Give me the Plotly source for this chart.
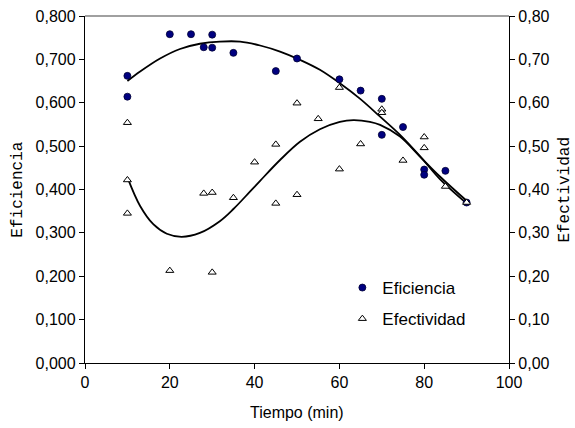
import plotly.graph_objects as go

# Eficiencia data (left axis)
ef_t = [10, 10, 20, 25, 28, 30, 30, 35, 45, 50, 60, 65, 70, 70, 75, 80, 80, 85, 90]
ef_v = [0.662, 0.614, 0.758, 0.758, 0.728, 0.757, 0.727, 0.715, 0.673, 0.702,
        0.654, 0.628, 0.609, 0.526, 0.544, 0.446, 0.434, 0.443, 0.370]

# Efectividad data (right axis)
et_t = [10, 10, 10, 20, 28, 30, 30, 35, 40, 45, 45, 50, 50, 55, 60, 60, 65, 70, 70, 75, 80, 80, 85, 90]
et_v = [0.554, 0.422, 0.345, 0.213, 0.391, 0.393, 0.209, 0.381, 0.463, 0.504, 0.368,
        0.599, 0.388, 0.563, 0.635, 0.447, 0.505, 0.585, 0.577, 0.467, 0.521, 0.496,
        0.407, 0.370]

# Trend curves
tr_ef_t = [10, 13, 17.7, 22.4, 27.1, 31.8, 36.6, 41.3, 46, 50.7, 55.4, 60.1, 64.9, 69.6, 74.3, 79, 83.7, 90]
tr_ef_v = [0.650, 0.672, 0.702, 0.724, 0.736, 0.741, 0.741, 0.732, 0.718, 0.699, 0.676,
           0.645, 0.609, 0.568, 0.526, 0.477, 0.424, 0.368]

tr_et_t = [10, 13, 16.1, 19.3, 22.8, 27.1, 31.8, 35, 38.9, 41.3, 46, 50.7, 55.4, 60.1, 63.3, 67.2, 69.6, 74.3, 79, 83.7, 90]
tr_et_v = [0.428, 0.362, 0.320, 0.298, 0.291, 0.300, 0.327, 0.355, 0.395, 0.420, 0.468,
           0.510, 0.539, 0.556, 0.560, 0.556, 0.549, 0.522, 0.476, 0.430, 0.374]

x_ticks = [0, 20, 40, 60, 80, 100]

FONT = "Liberation Sans, Arial, sans-serif"
MONO = "Liberation Mono, Courier New, monospace"

fig = go.Figure()
fig.add_trace(go.Scatter(x=tr_ef_t, y=tr_ef_v, mode="lines",
                         line=dict(color="black", width=1.8, shape="spline", smoothing=1),
                         showlegend=False, hoverinfo="skip"))
fig.add_trace(go.Scatter(x=tr_et_t, y=tr_et_v, mode="lines",
                         line=dict(color="black", width=1.8, shape="spline", smoothing=1),
                         showlegend=False, hoverinfo="skip", yaxis="y2"))
fig.add_trace(go.Scatter(x=et_t, y=et_v, mode="markers", name="Efectividad", yaxis="y2",
                         marker=dict(symbol="triangle-up", size=7, color="white",
                                     line=dict(color="black", width=1)),
                         legendgroup="b", legendrank=2))
fig.add_trace(go.Scatter(x=ef_t, y=ef_v, mode="markers", name="Eficiencia",
                         marker=dict(symbol="circle", size=7, color="#000080",
                                     line=dict(color="#000033", width=0.8)),
                         legendgroup="a", legendrank=1))

axis_common = dict(showgrid=False, zeroline=False, ticks="outside", ticklen=5,
                   tickcolor="black", linecolor="black", linewidth=1.3, showline=True,
                   automargin=False, ticklabeloverflow="allow",
                   tickfont=dict(family=FONT, size=16, color="black"))

fig.update_layout(
    width=575, height=428,
    margin=dict(l=85, r=66, t=16, b=65, autoexpand=False),
    paper_bgcolor="white", plot_bgcolor="white",
    separators=",.",
    font=dict(family=FONT, size=16, color="black"),
    xaxis=dict(range=[0, 100], tickvals=x_ticks, **axis_common),
    yaxis=dict(range=[0, 0.8], dtick=0.1, tickformat=".3f", **axis_common),
    yaxis2=dict(range=[0, 0.8], dtick=0.1, tickformat=".2f", overlaying="y", side="right",
                **axis_common),
    legend=dict(x=0.607, y=0.268, xanchor="left", yanchor="top", bgcolor="rgba(0,0,0,0)",
                font=dict(family=FONT, size=17), traceorder="grouped", tracegroupgap=6,
                itemwidth=30),
    shapes=[dict(type="line", xref="paper", yref="paper", x0=0, x1=1, y0=1, y1=1,
                 line=dict(color="#808080", width=1.5))],
    annotations=[
        dict(text="Tiempo (min)", xref="paper", yref="paper", x=0.5, y=-0.144,
             xanchor="center", yanchor="middle", showarrow=False,
             font=dict(family=FONT, size=16)),
        dict(text="Eficiencia", xref="paper", yref="paper", x=-0.160, y=0.5,
             xanchor="center", yanchor="middle", showarrow=False, textangle=-90,
             font=dict(family=MONO, size=16)),
        dict(text="Efectividad", xref="paper", yref="paper", x=1.130, y=0.5,
             xanchor="center", yanchor="middle", showarrow=False, textangle=-90,
             font=dict(family=MONO, size=16)),
    ],
)

fig.write_html("out.html", config={"displayModeBar": False},
               post_script="document.body.style.margin='0';document.body.style.overflow='hidden';")
